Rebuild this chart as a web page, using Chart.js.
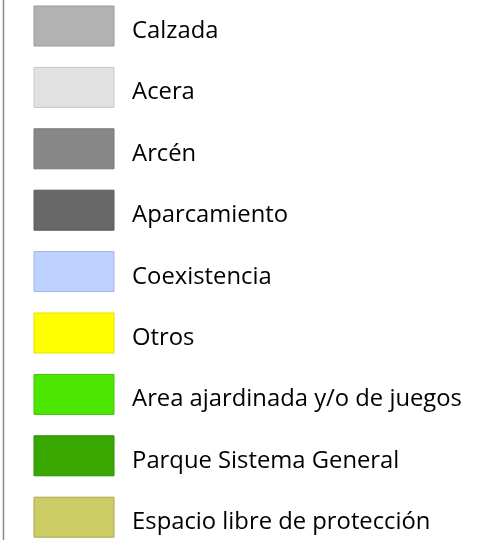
<!DOCTYPE html>
<html>
<head>
<meta charset="utf-8">
<script src="https://cdn.jsdelivr.net/npm/chart.js@4.4.1/dist/chart.umd.min.js"></script>
<style>
  html, body { margin: 0; padding: 0; background: #fff; }
  #wrap { width: 487px; height: 540px; position: relative; }
</style>
</head>
<body>
<div id="wrap"><canvas id="legend"></canvas></div>
<script>
// legend categories and their colours
const labels = ['Calzada', 'Acera', 'Arcén', 'Aparcamiento', 'Coexistencia', 'Otros',
  'Area ajardinada y/o de juegos', 'Parque Sistema General', 'Espacio libre de protección'];
const fills = ['#b2b2b2', '#e1e1e1', '#878787', '#686868', '#bed2ff', '#ffff00',
  '#4ce600', '#38a800', '#cdcd66'];
const borders = ['#9a9a9a', '#c8c8c8', '#767676', '#5a5a5a', '#a3b4e2', '#e2e200',
  '#40c400', '#2e8c00', '#a8a850'];

// thin map frame line on the left edge
const frameLine = {
  id: 'frameLine',
  afterDraw(chart){
    const c = chart.ctx;
    c.save();
    c.strokeStyle = '#8c8c8c';
    c.lineWidth = 1.5;
    c.beginPath();
    c.moveTo(3.5, 0);
    c.lineTo(3.5, chart.height);
    c.stroke();
    c.restore();
  }
};

const baseLabels = Chart.defaults.plugins.legend.labels.generateLabels;

new Chart(document.getElementById('legend'), {
  type: 'bar',
  data: {
    labels: [''],
    datasets: labels.map((l, i) => ({
      label: l,
      data: [],
      backgroundColor: fills[i],
      borderColor: borders[i],
      borderWidth: 1
    }))
  },
  options: {
    responsive: true,
    maintainAspectRatio: false,
    animation: false,
    events: [],
    layout: { padding: { top: -45, left: -17, bottom: -80 } },
    scales: { x: { display: false }, y: { display: false } },
    plugins: {
      tooltip: { enabled: false },
      legend: {
        position: 'left',
        align: 'start',
        maxWidth: 500,
        labels: {
          boxWidth: 80,
          boxHeight: 40,
          padding: 51,
          color: '#000',
          font: { family: "'Open Sans'", size: 23.8, lineHeight: '5.2px' },
          // empty first line pushes the text a little below the box centre
          generateLabels(chart){
            return baseLabels(chart).map(it => ({ ...it, text: ['', ' ' + it.text] }));
          }
        }
      }
    }
  },
  plugins: [frameLine]
});
</script>
</body>
</html>
